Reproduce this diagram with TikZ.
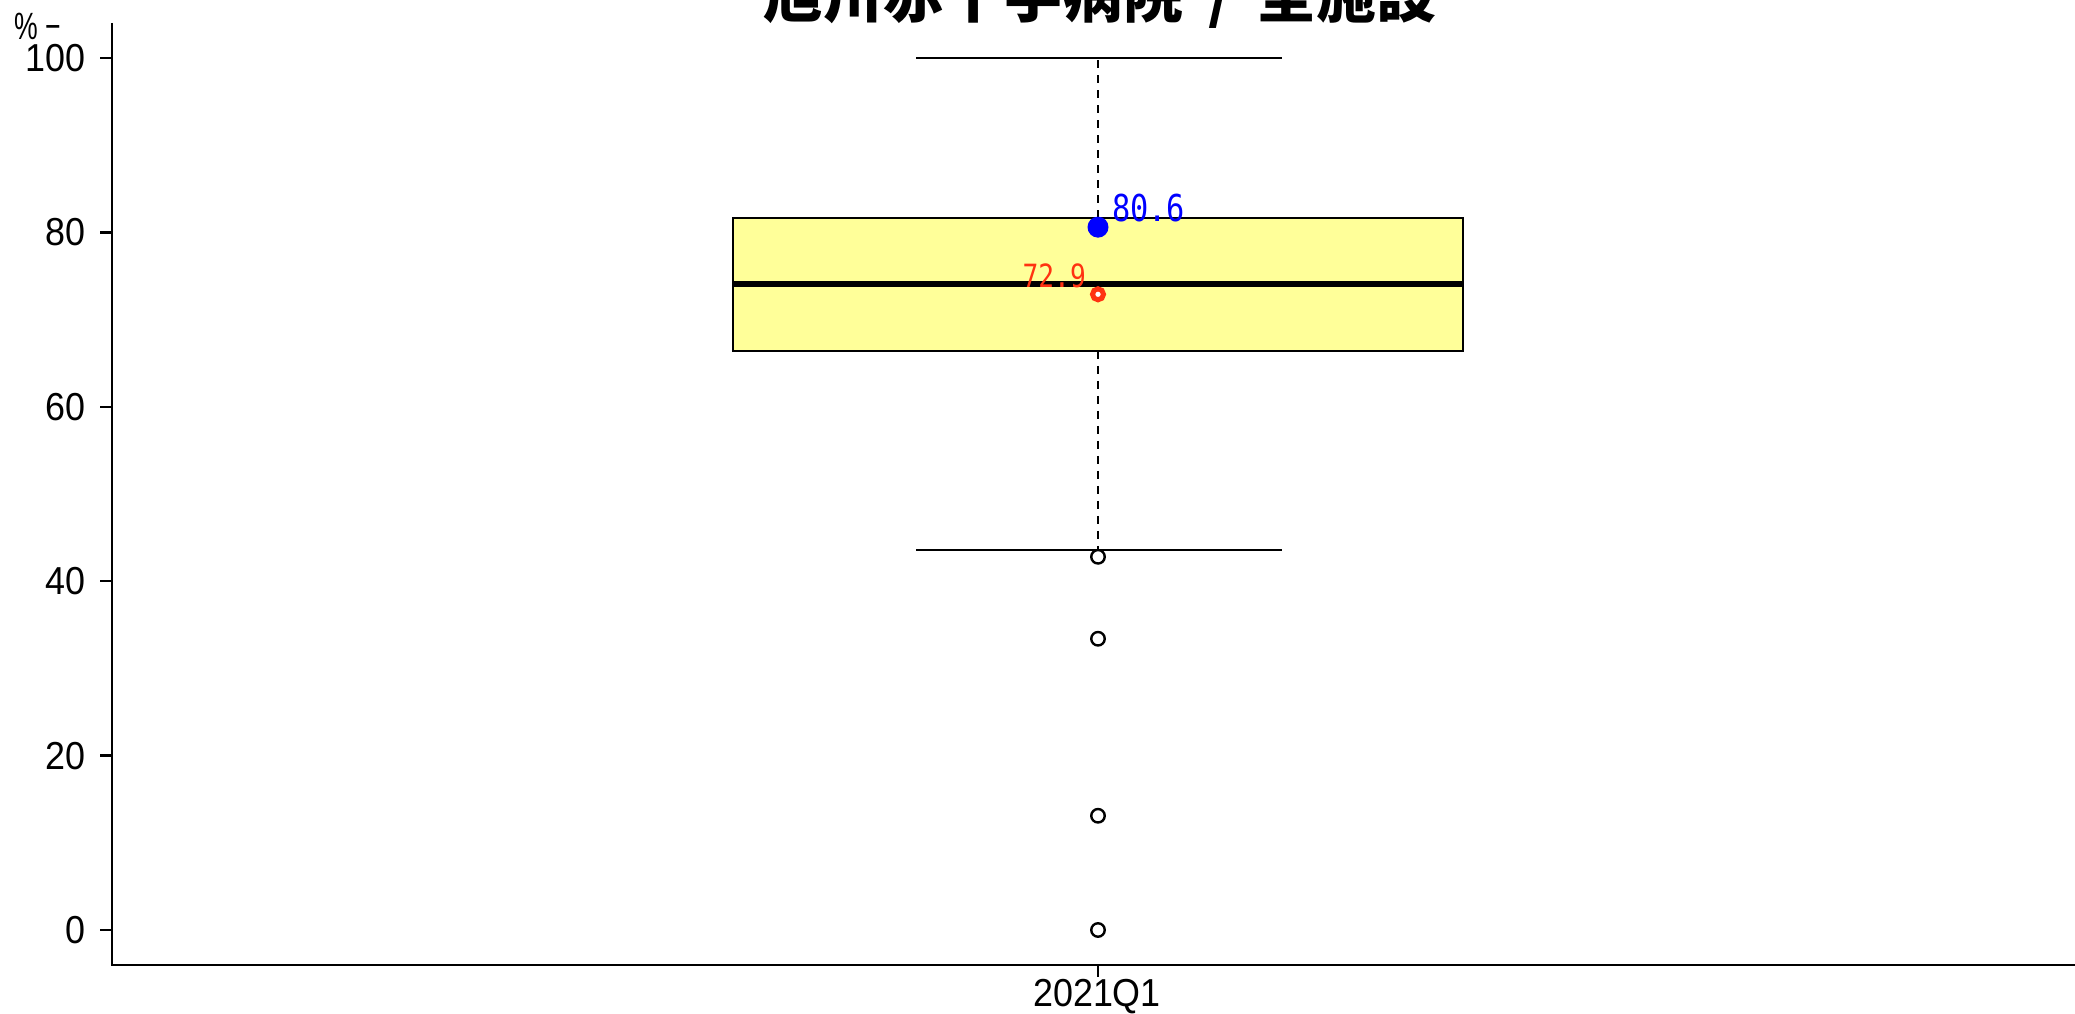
\documentclass[tikz,border=0pt]{standalone}
\usepackage{fontspec}
\setmainfont{Liberation Sans}
\newfontfamily\cjk{Noto Sans CJK JP}
\newfontfamily\valfont{DejaVu Sans Mono}

\definecolor{boxyellow}{RGB}{255,255,153}
\definecolor{allred}{RGB}{255,51,17}

\tikzset{
  axisline/.style={line width=2.3pt},
  ticklabel/.style={inner sep=0pt, xscale=0.92, font=\fontsize{39}{39}\selectfont},
  outlier/.style={circle, draw=black, line width=2.4pt, minimum size=13.5pt, inner sep=0pt},
}

\begin{document}
\begin{tikzpicture}[x=1pt,y=1pt]
\useasboundingbox (0,0) rectangle (2075,1014);

\node[anchor=base, inner sep=0pt, font=\cjk\bfseries\fontsize{60}{60}\selectfont] (title) at (1100,996) {旭川赤十字病院\hspace{0.42em}/\hspace{0.42em}全施設};
\node[anchor=base west, inner sep=0pt, xscale=0.7, font=\fontsize{38}{38}\selectfont] (unit) at (14,974) {\%\ −};

\draw[axisline] (112,991) -- (112,49) -- (2075,49);

\begin{scope}[shift={(0,84)}, y=8.72pt]
\foreach \v in {0,20,...,100} {
  \draw[axisline] (100,\v) -- (112,\v);
  \node[ticklabel, anchor=east] (ylab\v) at (86,\v) {\v};
}

\draw[axisline] (1098,-4) -- (1098,-5.4);
\node[ticklabel, anchor=base] (xlab) at (1097,-8.8) {2021Q1};

% whiskers
\draw[line width=2pt, dash pattern=on 8pt off 7pt] (1098,81.65) -- (1098,100);
\draw[line width=2pt, dash pattern=on 8pt off 7pt] (1098,66.4) -- (1098,43.58);
\draw[line width=2.3pt] (916,100) -- (1282,100);
\draw[line width=2.3pt] (916,43.58) -- (1282,43.58);

% box
\filldraw[fill=boxyellow, draw=black, line width=2pt] (733,66.4) rectangle (1463,81.65);
\draw[line width=6pt] (733,74.08) -- (1463,74.08);

\node[outlier] (out1) at (1098,42.8) {};
\node[outlier] (out2) at (1098,33.4) {};
\node[outlier] (out3) at (1098,13.1) {};
\node[outlier] (out4) at (1098,0) {};

\node[circle, fill=blue, minimum size=21pt, inner sep=0pt] (own) at (1098,80.6) {};
\node[anchor=base west, inner sep=0pt, xscale=0.82, text=blue, font=\valfont\fontsize{37}{37}\selectfont] (ownlab) at (1112,81.3) {80.6};

\node[circle, draw=allred, fill=white, line width=5pt, minimum size=11pt, inner sep=0pt] (all) at (1098,72.9) {};
\node[anchor=base east, inner sep=0pt, xscale=0.82, text=allred, font=\valfont\fontsize{32}{32}\selectfont] (alllab) at (1086,73.7) {72.9};
\end{scope}

\end{tikzpicture}
\end{document}
